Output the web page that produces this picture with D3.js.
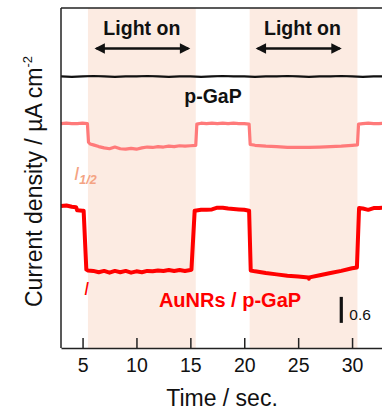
<!DOCTYPE html>
<html><head><meta charset="utf-8">
<script src="https://cdn.jsdelivr.net/npm/d3@7"></script>
<style>body{margin:0;background:#fff}svg{display:block;font-family:"Liberation Sans",Arial,Helvetica,sans-serif}</style>
</head><body><svg id="c" width="382" height="411"></svg>
<script>
// ---- data ----
const timeTicks = [5, 10, 15, 20, 25, 30];
const lightOnStart = [5.5, 20.5];
const lightOnEnd = [15.5, 30.5];
const arrowStart = [6.3, 21.25];
const arrowEnd = [14.8, 28.85];
const lightLabelT = [10.5, 25.4];

const tGaP = [3,4,5,6,7,8,9,10,11,12,13,14,15,16,17,18,19,20,21,22,23,24,25,26,27,28,29,30,31,32,33];
const vGaP = [6.27,6.26,6.27,6.28,6.27,6.26,6.27,6.27,6.28,6.27,6.26,6.27,6.27,6.26,6.27,6.28,6.27,6.27,6.26,6.27,6.27,6.28,6.27,6.26,6.27,6.27,6.28,6.27,6.26,6.27,6.27];

const tHalf = [3,3.5,4,4.5,5,5.45,5.55,5.7,6,6.5,7,7.5,8,8.5,9,9.5,10,10.5,11,11.5,12,12.5,13,13.5,14,14.5,15,15.5,15.6,16,16.5,17,17.5,18,18.5,19,19.5,20,20.45,20.55,21,22,23,24,25,26,27,28,29,30,30.5,30.6,31,31.5,32,32.5,33];
const vHalf = [5.18,5.19,5.18,5.18,5.19,5.18,4.75,4.71,4.69,4.65,4.62,4.60,4.64,4.60,4.59,4.61,4.59,4.62,4.64,4.63,4.65,4.64,4.66,4.65,4.67,4.66,4.67,4.68,5.17,5.19,5.18,5.19,5.18,5.19,5.18,5.19,5.18,5.18,5.17,4.70,4.68,4.66,4.65,4.63,4.63,4.63,4.64,4.65,4.66,4.68,4.69,5.17,5.18,5.19,5.18,5.18,5.19];

const tFull = [3,3.5,4,4.4,4.5,5,5.1,5.35,5.5,6,6.5,7,7.5,8,8.5,9,9.5,10,10.5,11,11.5,12,12.5,13,13.5,14,14.5,15,15.1,15.4,16,16.5,17,17.5,18,18.5,19,19.5,20,20.45,20.6,21,22,23,24,25,25.95,26,26.05,27,28,29,30,30.45,30.65,31,31.5,32,32.5,33];
const vFull = [3.28,3.29,3.26,3.25,3.18,3.17,3.17,1.81,1.79,1.78,1.75,1.78,1.74,1.78,1.75,1.78,1.74,1.77,1.75,1.78,1.77,1.79,1.78,1.80,1.78,1.80,1.78,1.80,1.81,3.17,3.19,3.19,3.20,3.24,3.24,3.22,3.21,3.20,3.19,3.17,1.79,1.77,1.73,1.70,1.67,1.65,1.63,1.60,1.63,1.68,1.73,1.78,1.84,1.86,3.23,3.22,3.19,3.23,3.23,3.24];

const scaleBar = [0.58, 1.18];
const scaleBarT = 29.0;

// ---- chart ----
const svg = d3.select("#c");
const x = d3.scaleLinear().domain([3, 33]).range([61, 384.4]);
const y = d3.scaleLinear().domain([0, 7.85]).range([348, 8]);

// shading
svg.append("g").selectAll("rect").data(lightOnStart).join("rect")
  .attr("x", d => x(d)).attr("width", (d, i) => x(lightOnEnd[i]) - x(d))
  .attr("y", y(7.85)).attr("height", y(0) - y(7.85))
  .attr("fill", "#fcebe2");

// lines
const line = d3.line().x(d => x(d[0])).y(d => y(d[1]));
const series = [
  {t: tGaP, v: vGaP, color: "#111", w: 2.2},
  {t: tHalf, v: vHalf, color: "#ff7a7a", w: 3.2},
  {t: tFull, v: vFull, color: "#ff0000", w: 4}
];
series.forEach(s => {
  svg.append("path").datum(s.t.map((t, i) => [t, s.v[i]]))
    .attr("d", line).attr("fill", "none").attr("stroke", s.color)
    .attr("stroke-width", s.w).attr("stroke-linejoin", "round");
});

// frame
svg.append("line").attr("x1", x(3)).attr("x2", x(3)).attr("y1", y(7.85)).attr("y2", y(0))
  .attr("stroke", "#222").attr("stroke-width", 1.5);
svg.append("line").attr("x1", x(3)).attr("x2", x(33)).attr("y1", y(7.85)).attr("y2", y(7.85))
  .attr("stroke", "#222").attr("stroke-width", 1.5);
svg.append("line").attr("x1", x(33)).attr("x2", x(33)).attr("y1", y(7.85)).attr("y2", y(0))
  .attr("stroke", "#222").attr("stroke-width", 1.5);

// x axis
const ax = svg.append("g").attr("transform", `translate(0,${y(0)})`)
  .call(d3.axisBottom(x).tickValues(timeTicks).tickSize(-10).tickSizeOuter(0).tickPadding(10));
ax.select(".domain").attr("stroke", "#222").attr("stroke-width", 1.5);
ax.selectAll(".tick line").attr("stroke", "#222").attr("stroke-width", 1.5);
ax.selectAll(".tick text").attr("font-size", 19.5).attr("fill", "#111")
  .attr("font-family", '"Liberation Sans",Arial,sans-serif');

svg.append("text").attr("x", 222).attr("y", 406).attr("text-anchor", "middle")
  .attr("font-size", 23).attr("fill", "#111").text("Time / sec.");

// y label
const yl = svg.append("text").attr("transform", "translate(41.5,307) rotate(-90)")
  .attr("font-size", 23).attr("fill", "#111");
yl.append("tspan").text("Current density / µA cm");
yl.append("tspan").attr("font-size", 13).attr("dy", -10).text("-2");

// arrows
const defs = svg.append("defs");
defs.append("marker").attr("id", "ah").attr("viewBox", "0 0 10 10").attr("refX", 8).attr("refY", 5)
  .attr("markerWidth", 4.6).attr("markerHeight", 4).attr("orient", "auto-start-reverse")
  .append("path").attr("d", "M0,0L10,5L0,10Z").attr("fill", "#111");
arrowStart.forEach((a, i) => {
  svg.append("line").attr("x1", x(a)).attr("x2", x(arrowEnd[i])).attr("y1", 48.5).attr("y2", 48.5)
    .attr("stroke", "#111").attr("stroke-width", 2.6)
    .attr("marker-start", "url(#ah)").attr("marker-end", "url(#ah)");
});
lightLabelT.forEach(t => {
  svg.append("text").attr("x", x(t)).attr("y", 35).attr("text-anchor", "middle")
    .attr("font-size", 19.5).attr("font-weight", "bold").attr("fill", "#111")
    .attr("textLength", 77).attr("lengthAdjust", "spacingAndGlyphs").text("Light on");
});

// labels
svg.append("text").attr("x", 213).attr("y", 103).attr("text-anchor", "middle")
  .attr("font-size", 19.5).attr("font-weight", "bold").attr("fill", "#111").text("p-GaP");
svg.append("text").attr("x", 230).attr("y", 307).attr("text-anchor", "middle")
  .attr("font-size", 20).attr("font-weight", "bold").attr("fill", "#ff0000").text("AuNRs / p-GaP");

const ih = svg.append("text").attr("x", 74).attr("y", 180).attr("font-style", "italic")
  .attr("fill", "#f4a383").attr("font-size", 19);
ih.append("tspan").text("I");
ih.append("tspan").attr("font-size", 12.5).attr("font-weight", "bold").attr("dy", 4).text("1/2");

svg.append("text").attr("x", 84).attr("y", 295).attr("font-style", "italic")
  .attr("fill", "#ff0000").attr("font-size", 18).text("I");

// scale bar
svg.append("line").attr("x1", x(scaleBarT)).attr("x2", x(scaleBarT))
  .attr("y1", y(scaleBar[0])).attr("y2", y(scaleBar[1]))
  .attr("stroke", "#111").attr("stroke-width", 3.2);
svg.append("text").attr("x", x(scaleBarT) + 8).attr("y", 320).attr("font-size", 15.5)
  .attr("fill", "#111").text(String(+(scaleBar[1] - scaleBar[0]).toFixed(1)));
</script></body></html>
